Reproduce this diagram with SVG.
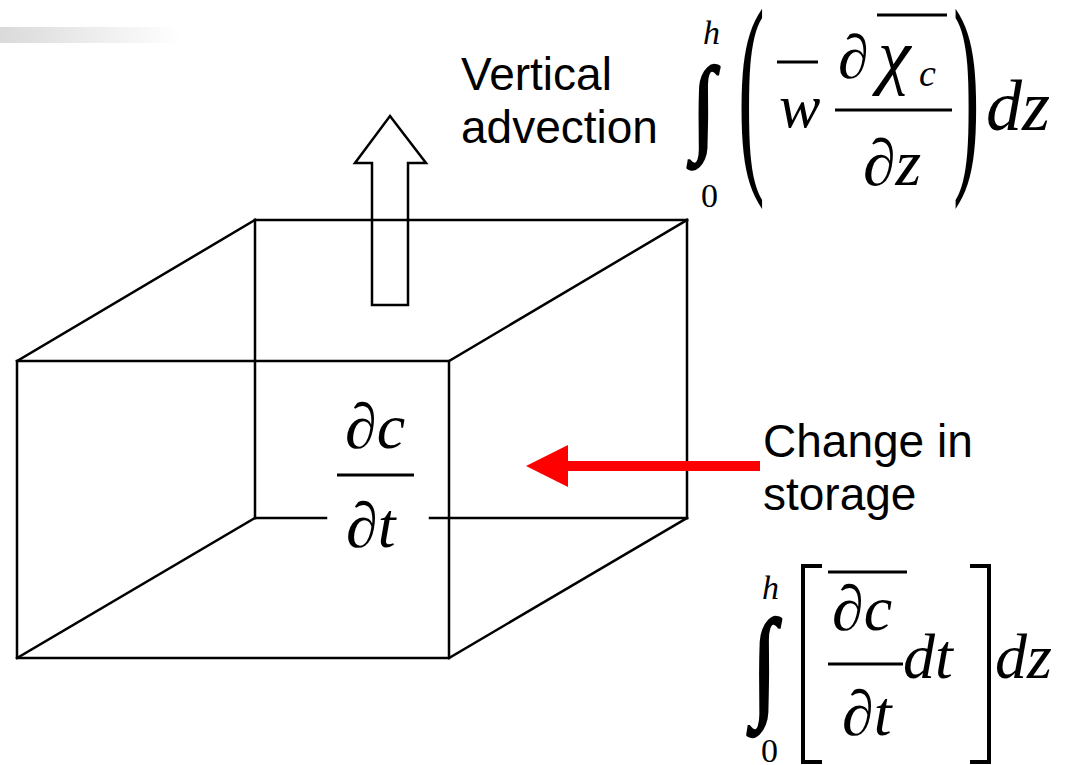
<svg xmlns="http://www.w3.org/2000/svg" width="1075" height="765" viewBox="0 0 1075 765">
<style>
.edge{stroke:#000;stroke-width:2.5;fill:none;stroke-linecap:square}
.lbl{font-family:"Liberation Sans",Arial,sans-serif;font-size:46px;fill:#000}
.m{font-family:"Liberation Serif","Times New Roman",serif;fill:#000}
.i{font-style:italic}
.int{font-weight:bold;stroke:#000;stroke-width:2.2}
.bar{stroke:#000;stroke-width:3}
</style>
<defs>
<linearGradient id="g" x1="0" x2="1" y1="0" y2="0">
<stop offset="0" stop-color="#dadada"/>
<stop offset="1" stop-color="#ffffff"/>
</linearGradient>
</defs>
<rect width="1075" height="765" fill="#fff"/>
<rect x="0" y="27" width="182" height="16" fill="url(#g)"/>

<g id="cube">
<polygon class="edge" points="17,361 449,361 449,658 17,658"/>
<line class="edge" x1="255" y1="220" x2="687" y2="220"/>
<line class="edge" x1="255" y1="220" x2="255" y2="518"/>
<line class="edge" x1="687" y1="220" x2="687" y2="518"/>
<line class="edge" x1="255" y1="518" x2="326" y2="518"/>
<line class="edge" x1="430" y1="518" x2="687" y2="518"/>
<line class="edge" x1="17" y1="361" x2="255" y2="220"/>
<line class="edge" x1="449" y1="361" x2="687" y2="220"/>
<line class="edge" x1="449" y1="658" x2="687" y2="518"/>
<line class="edge" x1="17" y1="658" x2="255" y2="518"/>
</g>

<g id="storage-frac">
<text class="m i" x="345" y="448" font-size="64">∂c</text>
<line class="bar" x1="337" y1="475" x2="414" y2="475"/>
<text class="m i" x="346" y="547" font-size="64">∂t</text>
</g>

<g id="connectors">
<polygon points="390,116 426,163 408,163 408,305 372,305 372,163 355,163" fill="none" stroke="#000" stroke-width="2.5" stroke-linejoin="miter"/>
<line x1="760" y1="466" x2="562" y2="466" stroke="#ff0000" stroke-width="10"/>
<polygon points="526,466 568,445 568,487" fill="#ff0000"/>
</g>

<g id="vertical-advection">
<text class="lbl" x="461" y="90">Vertical</text>
<text class="lbl" x="461" y="143">advection</text>
</g>

<g id="change-in-storage">
<text class="lbl" x="763" y="457">Change in</text>
<text class="lbl" x="763" y="510">storage</text>
</g>

<g id="formula-top">
<text class="m i" x="703" y="44" font-size="34">h</text>
<text class="m int" font-size="85" transform="translate(692,141) scale(1,1.25)">∫</text>
<text class="m" x="701" y="207" font-size="34">0</text>
<text class="m" font-size="80" transform="translate(738,162) scale(1,2.75)">(</text>
<text class="m i" x="779" y="127" font-size="62">w</text>
<line class="bar" x1="777" y1="62" x2="818" y2="62"/>
<text class="m i" x="838" y="78" font-size="62">∂</text>
<text class="m i" x="878" y="80" font-size="74">χ</text>
<text class="m i" x="919" y="86" font-size="38">c</text>
<line class="bar" x1="877" y1="15" x2="947" y2="15"/>
<line class="bar" x1="835" y1="110" x2="952" y2="110"/>
<text class="m i" x="863" y="185" font-size="66">∂z</text>
<text class="m" font-size="80" transform="translate(953,162) scale(1,2.75)">)</text>
<text class="m i" x="986" y="130" font-size="72">dz</text>
</g>

<g id="formula-bottom">
<text class="m i" x="762" y="599" font-size="34">h</text>
<text class="m int" font-size="90" transform="translate(752,704) scale(1,1.35)">∫</text>
<text class="m" x="761" y="762" font-size="34">0</text>
<polyline points="822,566 803,566 803,762 822,762" fill="none" stroke="#000" stroke-width="4"/>
<line class="bar" x1="828" y1="572" x2="907" y2="572"/>
<text class="m i" x="832" y="630" font-size="64">∂c</text>
<line class="bar" x1="828" y1="664" x2="903" y2="664"/>
<text class="m i" x="903" y="678" font-size="64">dt</text>
<text class="m i" x="842" y="735" font-size="64">∂t</text>
<polyline points="970,566 989,566 989,762 970,762" fill="none" stroke="#000" stroke-width="4"/>
<text class="m i" x="995" y="678" font-size="64">dz</text>
</g>
</svg>
